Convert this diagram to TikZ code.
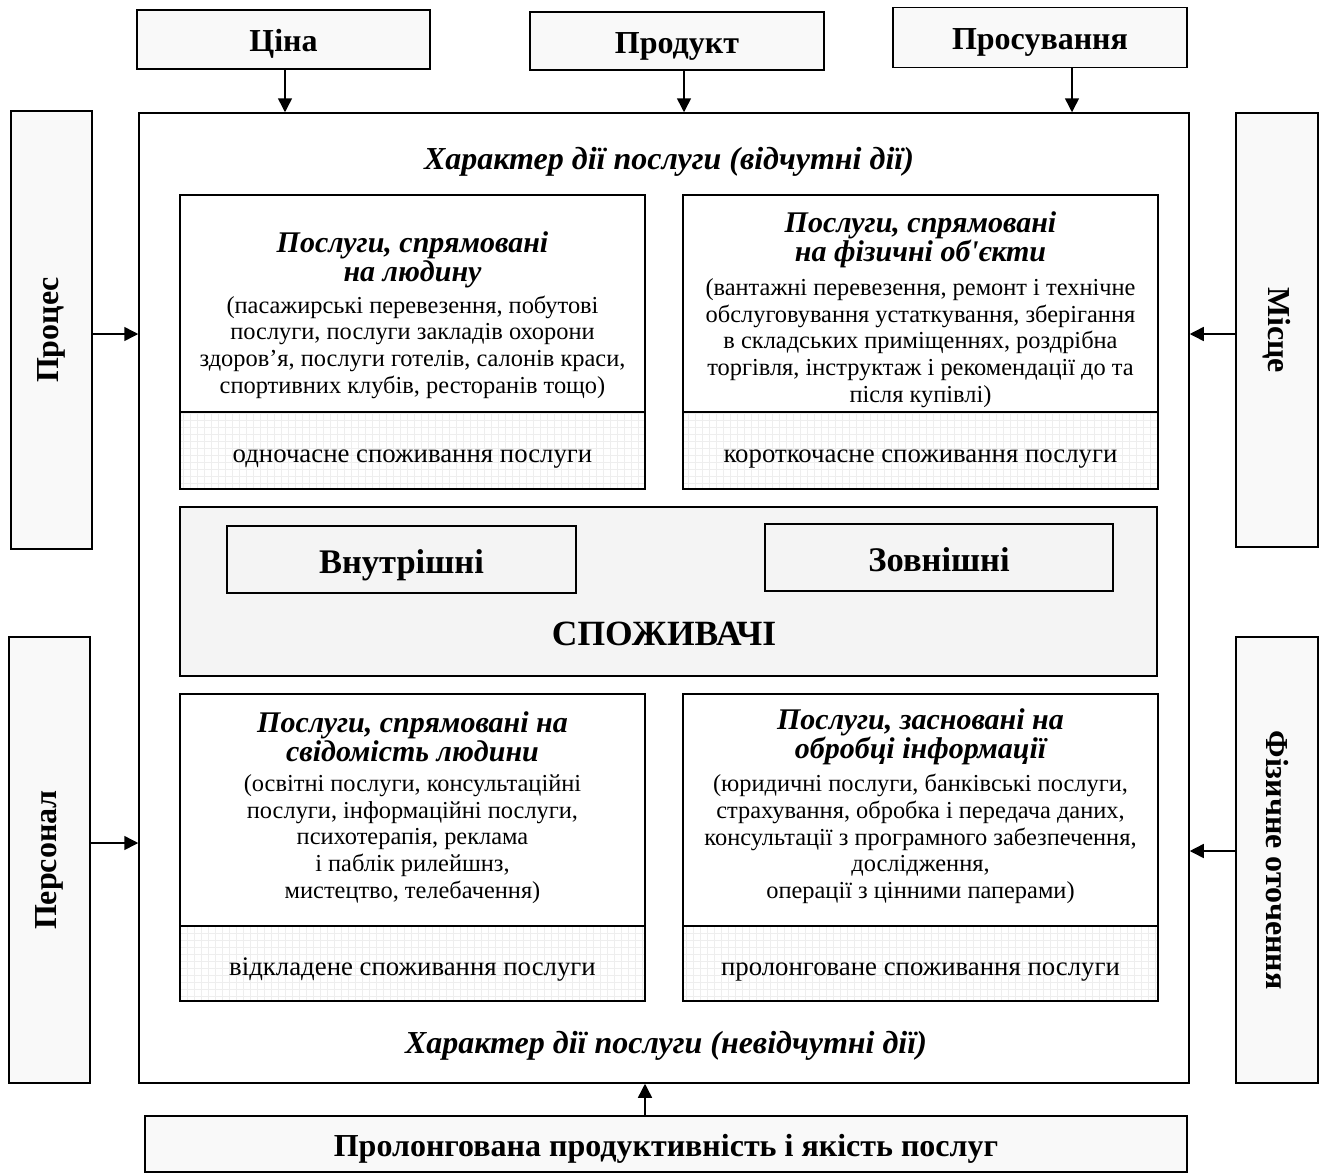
\documentclass[tikz,border=0pt]{standalone}
\usepackage{fontspec}
\setmainfont{Liberation Serif}
\usetikzlibrary{arrows.meta}
\definecolor{labfill}{HTML}{F9F9F9}
\definecolor{consfill}{HTML}{F4F4F4}
\definecolor{gridc}{HTML}{EEEEEE}
\tikzset{
  bx/.style={draw=black, line width=1.5pt, rectangle, inner sep=0pt},
  labbox/.style={bx, fill=labfill, font=\fontsize{32}{34}\selectfont\bfseries, text height=24pt, text depth=0pt},
  sidebox/.style={bx, fill=labfill, font=\fontsize{32}{34}\selectfont\bfseries},
  consbox/.style={bx, fill=consfill},
  inbox/.style={bx, fill=consfill, font=\fontsize{34.5}{36}\selectfont\bfseries, text height=27pt, text depth=0pt},
  upbox/.style={bx, fill=white},
  lowbox/.style={bx, fill=white, font=\fontsize{26.8}{29}\selectfont, text height=23pt, text depth=0pt,
    path picture={\draw[gridc, line width=0.5pt, step=7pt]
      (path picture bounding box.south west) grid (path picture bounding box.north east);}},
  svtitle/.style={align=center, font=\fontsize{30}{28.5}\selectfont\bfseries\itshape, inner sep=0pt},
  svbody/.style={align=center, font=\fontsize{24.4}{26.7}\selectfont, inner sep=0pt},
  chartxt/.style={font=\fontsize{32}{34}\selectfont\bfseries\itshape, inner sep=0pt},
  arr/.style={line width=1.5pt, -{Triangle[length=14pt,width=14pt]}},
}
\begin{document}
\begin{tikzpicture}[x=1pt,y=-1pt]
\useasboundingbox (0,0) rectangle (1320,1173);
\fill[white] (0,0) rectangle (1320,1173);

% top labels
\node[labbox, minimum width=293pt, minimum height=59pt] (cina) at (283.5,39.5) {Ціна};
\node[labbox, minimum width=294pt, minimum height=58pt] (prod) at (677,41) {Продукт};
\node[labbox, minimum width=294pt, minimum height=60pt] (pros) at (1040,37.5) {Просування};

% main frame
\node[bx, fill=white, minimum width=1050pt, minimum height=970pt] (main) at (664,598) {};

% side labels
\node[sidebox, minimum width=81pt, minimum height=438pt] (proc) at (51.5,330) {\rotatebox{90}{Процес}};
\node[sidebox, minimum width=82pt, minimum height=434pt] (misce) at (1277,330) {\rotatebox{-90}{Місце}};
\node[sidebox, minimum width=81pt, minimum height=446pt] (pers) at (49.5,860) {\rotatebox{90}{Персонал}};
\node[sidebox, minimum width=82pt, minimum height=446pt] (fiz) at (1277,860) {\rotatebox{-90}{Фізичне оточення}};

% bottom label
\node[labbox, minimum width=1042pt, minimum height=56pt] (bot) at (666,1144) {Пролонгована продуктивність і якість послуг};

% headings inside main
\node[chartxt] (chtop) at (669,162) {Характер дії послуги (відчутні дії)};
\node[chartxt] (chbot) at (666,1046) {Характер дії послуги (невідчутні дії)};

% top-left service box
\node[upbox, minimum width=465pt, minimum height=217pt] (tlU) at (412.5,303.5) {};
\node[lowbox, minimum width=465pt, minimum height=77pt] (tlL) at (412.5,450.5) {одночасне споживання послуги};
\node[svtitle] (tlT) at (412.5,260) {Послуги, спрямовані\\на людину};
\node[svbody] (tlB) at (412.5,347) {(пасажирські перевезення, побутові\\послуги, послуги закладів охорони\\здоров’я, послуги готелів, салонів краси,\\спортивних клубів, ресторанів тощо)};

% top-right service box
\node[upbox, minimum width=475pt, minimum height=217pt] (trU) at (920.5,303.5) {};
\node[lowbox, minimum width=475pt, minimum height=77pt] (trL) at (920.5,450.5) {короткочасне споживання послуги};
\node[svtitle] (trT) at (920.5,240) {Послуги, спрямовані\\на фізичні об\textquotesingle єкти};
\node[svbody] (trB) at (920.5,343) {(вантажні перевезення, ремонт і технічне\\обслуговування устаткування, зберігання\\в складських приміщеннях, роздрібна\\торгівля, інструктаж і рекомендації до та\\після купівлі)};

% consumers
\node[consbox, minimum width=977pt, minimum height=169pt] (cons) at (668.5,591.5) {};
\node[inbox, minimum width=349pt, minimum height=67pt] (vnut) at (401.5,559.5) {Внутрішні};
\node[inbox, minimum width=348pt, minimum height=67pt] (zovn) at (939,557.5) {Зовнішні};
\node[font=\fontsize{35.5}{38}\selectfont\bfseries, inner sep=0pt] (spoz) at (664,634) {СПОЖИВАЧІ};

% bottom-left service box
\node[upbox, minimum width=465pt, minimum height=232pt] (blU) at (412.5,810) {};
\node[lowbox, minimum width=465pt, minimum height=75pt] (blL) at (412.5,963.5) {відкладене споживання послуги};
\node[svtitle] (blT) at (412.5,737) {Послуги, спрямовані на\\свідомість людини};
\node[svbody] (blB) at (412.5,839) {(освітні послуги, консультаційні\\послуги, інформаційні послуги,\\психотерапія, реклама\\і паблік рилейшнз,\\мистецтво, телебачення)};

% bottom-right service box
\node[upbox, minimum width=475pt, minimum height=232pt] (brU) at (920.5,810) {};
\node[lowbox, minimum width=475pt, minimum height=75pt] (brL) at (920.5,963.5) {пролонговане споживання послуги};
\node[svtitle] (brT) at (920.5,737) {Послуги, засновані на\\обробці інформації};
\node[svbody] (brB) at (920.5,839) {(юридичні послуги, банківські послуги,\\страхування, обробка і передача даних,\\консультації з програмного забезпечення,\\дослідження,\\операції з цінними паперами)};

% arrows
\draw[arr] ([xshift=1.5pt]cina.south) -- ([xshift=1.5pt]cina.south |- main.north);
\draw[arr] ([xshift=7pt]prod.south) -- ([xshift=7pt]prod.south |- main.north);
\draw[arr] ([xshift=32pt]pros.south) -- ([xshift=32pt]pros.south |- main.north);
\draw[arr] ([yshift=-4pt]proc.east) -- ([yshift=-4pt]proc.east -| main.west);
\draw[arr] ([yshift=-4pt]misce.west) -- ([yshift=-4pt]misce.west -| main.east);
\draw[arr] ([yshift=17pt]pers.east) -- ([yshift=17pt]pers.east -| main.west);
\draw[arr] ([yshift=9pt]fiz.west) -- ([yshift=9pt]fiz.west -| main.east);
\draw[arr] ([xshift=-21pt]bot.north) -- ([xshift=-21pt]bot.north |- main.south);
\end{tikzpicture}
\end{document}
